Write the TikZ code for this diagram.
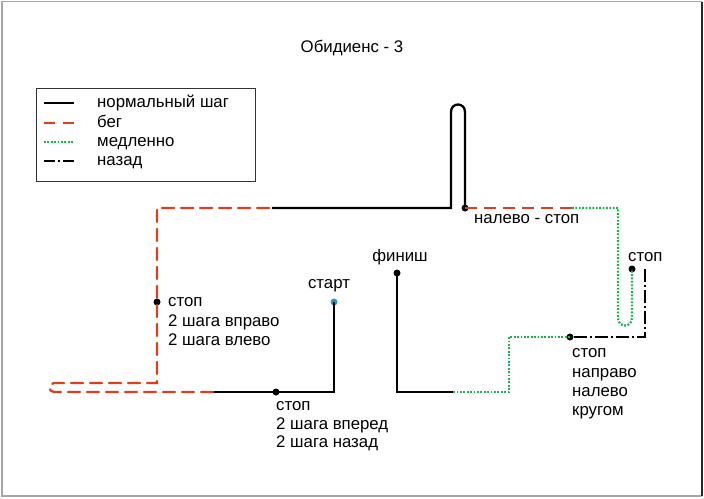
\documentclass[tikz,border=0pt]{standalone}
\usepackage{fontspec}
\setmainfont{Liberation Sans}
\begin{document}
\begin{tikzpicture}[x=1pt,y=-1pt,
  lbl/.style={inner sep=0pt,font=\fontsize{16.8}{19.3}\selectfont,align=left},
  walk/.style={line width=2.3pt,black},
  run/.style={line width=2.3pt,color=runred,dash pattern=on 12pt off 7pt},
  slow/.style={line width=2.3pt,color=slowgreen,dash pattern=on 1.8pt off 1.6pt},
  back/.style={line width=2.3pt,black,dash pattern=on 13pt off 3pt on 2pt off 3pt},
  dot/.style={circle,fill=black,inner sep=0pt,minimum size=7pt}]
\definecolor{runred}{RGB}{222,62,30}
\definecolor{slowgreen}{RGB}{25,180,75}
\definecolor{startblue}{RGB}{40,150,200}
\useasboundingbox (0,0) rectangle (704,498);
\fill[white] (0,0) rectangle (704,498);
% frame
\draw[gray!70,line width=1.5pt] (702,1.5) -- (2,1.5) -- (2,496) -- (702,496);
\draw[black!85,line width=1.5pt] (702,1.5) -- (702,496);
% title
\node[lbl,anchor=base] (title) at (352,52.5) {Обидиенс - 3};
% legend
\node[draw=black!80,line width=1pt,minimum width=219pt,minimum height=93pt,inner sep=0pt] (legend) at (145.5,134.5) {};
\coordinate (l1a) at (44,103); \coordinate (l1b) at (74,103);
\coordinate (l2a) at (44,123); \coordinate (l2b) at (74,123);
\coordinate (l3a) at (44,142); \coordinate (l3b) at (74,142);
\coordinate (l4a) at (44,161); \coordinate (l4b) at (74,161);
\draw[walk] (l1a) -- (l1b);
\draw[run,dash pattern=on 11pt off 8pt] (l2a) -- (l2b);
\draw[slow] (l3a) -- (l3b);
\draw[back,dash pattern=on 11pt off 3pt on 2pt off 3pt] (l4a) -- (l4b);
\node[lbl,anchor=base west] (t1) at (97,107.5) {нормальный шаг};
\node[lbl,anchor=base west] (t2) at (97,127.5) {бег};
\node[lbl,anchor=base west] (t3) at (97,146.5) {медленно};
\node[lbl,anchor=base west] (t4) at (97,165.5) {назад};
% route coordinates
\coordinate (sb) at (334,392);
\coordinate (r1) at (213,392);
\coordinate (u1) at (54,392);
\coordinate (u2) at (54,383);
\coordinate (c1) at (157,383);
\coordinate (c2) at (157,208);
\coordinate (r2) at (272,208);
\coordinate (h1) at (451,208);
\coordinate (h2) at (451,112);
\coordinate (h3) at (465,112);
\coordinate (g1) at (572,208);
\coordinate (g2) at (618,208);
\coordinate (g3) at (618,318);
\coordinate (g4) at (632,318);
\coordinate (b1) at (645,269);
\coordinate (b2) at (645,337);
\coordinate (s1) at (509,337);
\coordinate (s2) at (509,392);
\coordinate (s3) at (453,392);
\coordinate (fb) at (397,392);
% dots
\node[dot,fill=startblue] (start) at (334,302) {};
\node[dot] (stop1) at (276,392) {};
\node[dot] (stop2) at (157,302) {};
\node[dot] (stop3) at (465,208) {};
\node[dot] (stop4) at (632,269) {};
\node[dot] (stop5) at (570,337) {};
\node[dot] (finish) at (397,273) {};
% route
\draw[walk] (start.center) -- (sb) -- (r1);
\draw[run,line cap=round] (r1) -- (u1) .. controls (48,392) and (48,383) .. (u2) -- (c1) -- (c2) -- (r2);
\draw[walk] (r2) -- (h1) -- (h2) .. controls (451,102) and (465,102) .. (h3) -- (stop3.center);
\draw[run] (stop3.center) -- (g1);
\draw[slow] (g1) -- (g2) -- (g3) .. controls (618,328) and (632,328) .. (g4) -- (stop4.center);
\draw[back] (b1) -- (b2) -- (stop5.center);
\draw[slow] (stop5.center) -- (s1) -- (s2) -- (s3);
\draw[walk] (s3) -- (fb) -- (finish.center);
% labels
\node[lbl,anchor=base] (lstart) at (329,288.5) {старт};
\node[lbl,anchor=base] (lfin) at (400,261.5) {финиш};
\node[lbl,anchor=base west] (lst3) at (474,223.5) {налево - стоп};
\node[lbl,anchor=base west] (lst4) at (628,261.5) {стоп};
\node[lbl,anchor=base west] (lst2a) at (168,306.5) {стоп};
\node[lbl,anchor=base west] (lst2b) at (168,326) {2 шага вправо};
\node[lbl,anchor=base west] (lst2c) at (168,345.5) {2 шага влево};
\node[lbl,anchor=base west] (lst1a) at (276,410.5) {стоп};
\node[lbl,anchor=base west] (lst1b) at (276,429) {2 шага вперед};
\node[lbl,anchor=base west] (lst1c) at (276,447.5) {2 шага назад};
\node[lbl,anchor=base west] (lst5a) at (572,357.5) {стоп};
\node[lbl,anchor=base west] (lst5b) at (572,377) {направо};
\node[lbl,anchor=base west] (lst5c) at (572,396) {налево};
\node[lbl,anchor=base west] (lst5d) at (572,415.5) {кругом};
\end{tikzpicture}
\end{document}
